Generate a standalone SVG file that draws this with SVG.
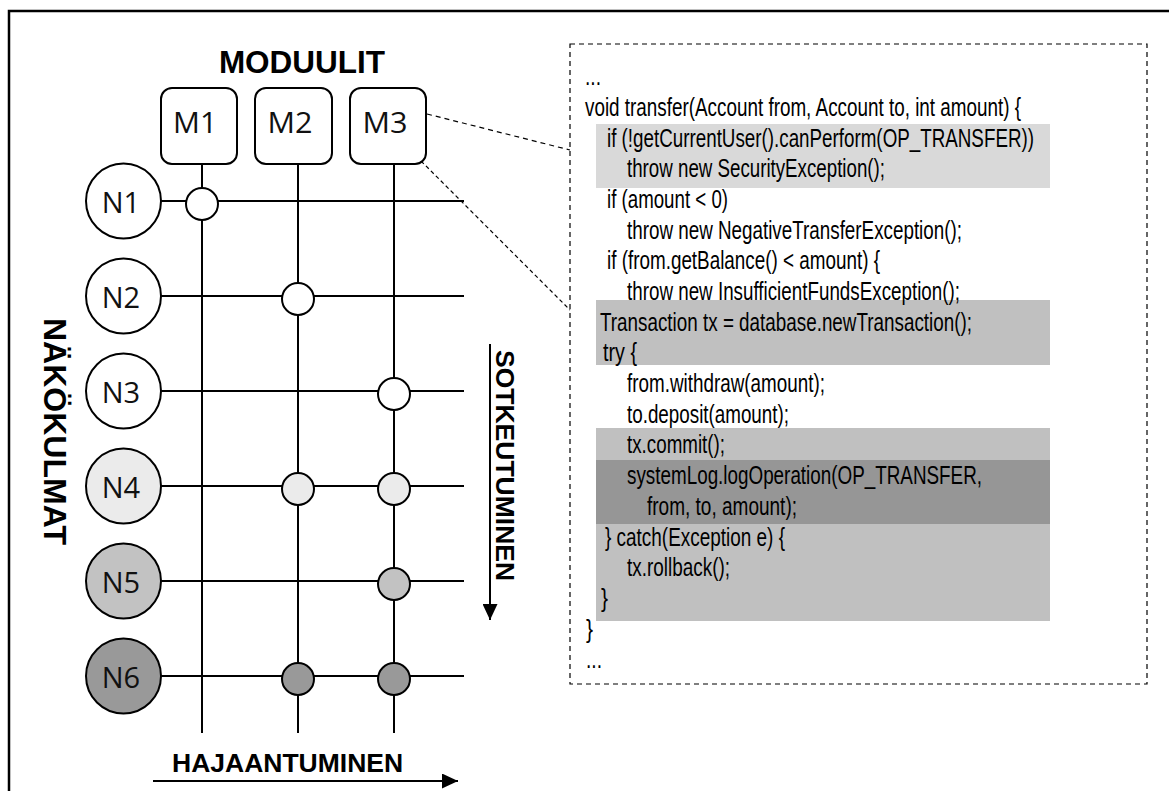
<svg xmlns="http://www.w3.org/2000/svg" width="1169" height="791" viewBox="0 0 1169 791">
  <style>
    .frame { fill: none; stroke: #000; stroke-width: 2.5; }
    .wire { stroke: #000; stroke-width: 2; fill: none; }
    .dash { stroke: #000; stroke-width: 1.2; fill: none; stroke-dasharray: 5 4; }
    .dot { stroke: #000; stroke-width: 1.2; fill: none; stroke-dasharray: 4 3; }
    .node { stroke: #000; stroke-width: 2; }
    .box { fill: #fff; stroke: #000; stroke-width: 2; }
    .lbl { font-family: "Open Sans", "Noto Sans", sans-serif; font-size: 29px; fill: #111; text-anchor: middle; }
    .head { font-family: "Liberation Sans", Arial, sans-serif; font-weight: bold; fill: #000; }
    .code { font-family: "Liberation Sans", Arial, sans-serif; font-size: 26px; fill: #000; }
    .w { fill: #fff; }
    .g1 { fill: #ebebeb; }
    .g2 { fill: #c2c2c2; }
    .g3 { fill: #999999; }
    .hl1 { fill: #d9d9d9; }
    .hl2 { fill: #c0c0c0; }
    .hl3 { fill: #969696; }
  </style>
  <defs>
    <marker id="arrow" markerUnits="userSpaceOnUse" markerWidth="16" markerHeight="15" refX="16" refY="7.5" orient="auto">
      <path d="M0,0 L16,7.5 L0,15 z" fill="#000"/>
    </marker>
  </defs>

  <rect width="1169" height="791" fill="#fff"/>
  <!-- outer frame (right and bottom edges lie outside the canvas) -->
  <path class="frame" d="M9,800 L9,11 L1180,11"/>

  <!-- headings -->
  <text class="head" x="302" y="73" font-size="31.5" text-anchor="middle">MODUULIT</text>
  <text class="head" font-size="32" transform="translate(44,318) rotate(90)">NÄKÖKULMAT</text>
  <text class="head" font-size="26.5" transform="translate(496,350) rotate(90)">SOTKEUTUMINEN</text>
  <text class="head" x="172" y="772" font-size="26.5">HAJAANTUMINEN</text>

  <!-- code listing panel -->
  <g id="code-panel">
    <rect x="570" y="44" width="577" height="640" fill="#fff" class="dash"/>
    <rect class="hl1" x="596" y="124" width="454" height="64"/>
    <rect class="hl2" x="596" y="300" width="454" height="65"/>
    <rect class="hl2" x="596" y="428" width="454" height="32"/>
    <rect class="hl3" x="596" y="460" width="454" height="64"/>
    <rect class="hl2" x="596" y="524" width="454" height="97"/>
    <text class="code" x="585" y="85" textLength="16" lengthAdjust="spacingAndGlyphs">...</text>
    <text class="code" x="585" y="115.7" textLength="436" lengthAdjust="spacingAndGlyphs">void transfer(Account from, Account to, int amount) {</text>
    <text class="code" x="607" y="146.6" textLength="427" lengthAdjust="spacingAndGlyphs">if (!getCurrentUser().canPerform(OP_TRANSFER))</text>
    <text class="code" x="627" y="177.1" textLength="258" lengthAdjust="spacingAndGlyphs">throw new SecurityException();</text>
    <text class="code" x="607" y="207.8" textLength="121" lengthAdjust="spacingAndGlyphs">if (amount &lt; 0)</text>
    <text class="code" x="627" y="238.5" textLength="335" lengthAdjust="spacingAndGlyphs">throw new NegativeTransferException();</text>
    <text class="code" x="607" y="269.2" textLength="273" lengthAdjust="spacingAndGlyphs">if (from.getBalance() &lt; amount) {</text>
    <text class="code" x="627" y="299.9" textLength="333" lengthAdjust="spacingAndGlyphs">throw new InsufficientFundsException();</text>
    <text class="code" x="600" y="330.6" textLength="372" lengthAdjust="spacingAndGlyphs">Transaction tx = database.newTransaction();</text>
    <text class="code" x="603" y="361.3" textLength="34" lengthAdjust="spacingAndGlyphs">try {</text>
    <text class="code" x="627" y="392" textLength="198" lengthAdjust="spacingAndGlyphs">from.withdraw(amount);</text>
    <text class="code" x="627" y="422.7" textLength="162" lengthAdjust="spacingAndGlyphs">to.deposit(amount);</text>
    <text class="code" x="627" y="453.4" textLength="98" lengthAdjust="spacingAndGlyphs">tx.commit();</text>
    <text class="code" x="627" y="484.1" textLength="355" lengthAdjust="spacingAndGlyphs">systemLog.logOperation(OP_TRANSFER,</text>
    <text class="code" x="647" y="514.8" textLength="150" lengthAdjust="spacingAndGlyphs">from, to, amount);</text>
    <text class="code" x="605" y="545.5" textLength="180" lengthAdjust="spacingAndGlyphs">} catch(Exception e) {</text>
    <text class="code" x="627" y="576.2" textLength="103" lengthAdjust="spacingAndGlyphs">tx.rollback();</text>
    <text class="code" x="601" y="606.9" textLength="7" lengthAdjust="spacingAndGlyphs">}</text>
    <text class="code" x="586" y="637.6" textLength="7" lengthAdjust="spacingAndGlyphs">}</text>
    <text class="code" x="586" y="668.3" textLength="16" lengthAdjust="spacingAndGlyphs">...</text>
  </g>

  <!-- connectors: module and viewpoint lines, callout lines, axis arrows -->
  <g id="connectors">
    <line class="wire" x1="202" y1="164" x2="202" y2="733"/>
    <line class="wire" x1="298" y1="164" x2="298" y2="733"/>
    <line class="wire" x1="394" y1="164" x2="394" y2="733"/>
    <line class="wire" x1="161" y1="201" x2="464" y2="201"/>
    <line class="wire" x1="161" y1="296" x2="464" y2="296"/>
    <line class="wire" x1="161" y1="391" x2="464" y2="391"/>
    <line class="wire" x1="161" y1="486" x2="464" y2="486"/>
    <line class="wire" x1="161" y1="581" x2="464" y2="581"/>
    <line class="wire" x1="161" y1="676" x2="464" y2="676"/>
    <line class="dash" x1="427" y1="114" x2="570" y2="150"/>
    <line class="dot" x1="421" y1="161" x2="570" y2="310"/>
    <line class="wire" x1="490" y1="344" x2="490" y2="620" marker-end="url(#arrow)"/>
    <line class="wire" x1="153" y1="781" x2="458" y2="781" marker-end="url(#arrow)"/>
  </g>

  <!-- crossing points where a viewpoint touches a module -->
  <g id="junctions" class="node">
    <circle class="w" cx="202" cy="204" r="16"/>
    <circle class="w" cx="298" cy="299" r="16"/>
    <circle class="w" cx="394" cy="394" r="16"/>
    <circle class="g1" cx="298" cy="489" r="16"/>
    <circle class="g1" cx="394" cy="489" r="16"/>
    <circle class="g2" cx="394" cy="584" r="16"/>
    <circle class="g3" cx="298" cy="679" r="16"/>
    <circle class="g3" cx="394" cy="679" r="16"/>
  </g>

  <!-- modules -->
  <g id="m1"><rect class="box" x="161" y="88" width="76" height="76" rx="11"/><text class="lbl" x="195" y="133" textLength="44" lengthAdjust="spacingAndGlyphs">M1</text></g>
  <g id="m2"><rect class="box" x="255" y="88" width="77" height="76" rx="11"/><text class="lbl" x="290" y="133" textLength="45" lengthAdjust="spacingAndGlyphs">M2</text></g>
  <g id="m3"><rect class="box" x="350" y="88" width="76" height="76" rx="11"/><text class="lbl" x="385" y="133" textLength="45" lengthAdjust="spacingAndGlyphs">M3</text></g>

  <!-- viewpoints -->
  <g id="n1"><circle class="node w" cx="123.5" cy="201" r="37.5"/><text class="lbl" x="121" y="213">N1</text></g>
  <g id="n2"><circle class="node w" cx="123.5" cy="296" r="37.5"/><text class="lbl" x="121" y="308">N2</text></g>
  <g id="n3"><circle class="node w" cx="123.5" cy="391" r="37.5"/><text class="lbl" x="121" y="403">N3</text></g>
  <g id="n4"><circle class="node g1" cx="123.5" cy="486" r="37.5"/><text class="lbl" x="121" y="498">N4</text></g>
  <g id="n5"><circle class="node g2" cx="123.5" cy="581" r="37.5"/><text class="lbl" x="121" y="593">N5</text></g>
  <g id="n6"><circle class="node g3" cx="123.5" cy="676" r="37.5"/><text class="lbl" x="121" y="688">N6</text></g>
</svg>
